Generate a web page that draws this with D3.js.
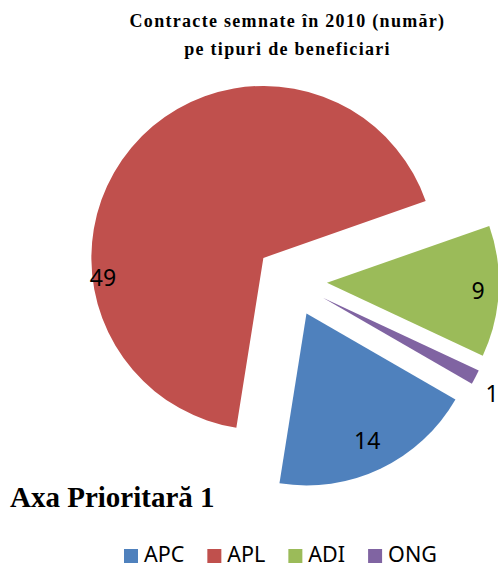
<!DOCTYPE html>
<html>
<head>
<meta charset="utf-8">
<script src="https://cdn.jsdelivr.net/npm/d3@7"></script>
<style>
  body { margin: 0; background: #fff; }
  svg { display: block; }
</style>
</head>
<body>
<div id="chart"></div>
<script>
// chart data
var categories = ["APC", "APL", "ADI", "ONG"];
var values = [14, 49, 9, 1];
var colors = ["#4F81BD", "#C0504D", "#9BBB59", "#8064A2"];
var titleLines = ["Contracte semnate în 2010 (număr)", "pe tipuri de beneficiari"];
var subTitle = "Axa Prioritară 1";

var svgWidth = 498;
var svgHeight = 569;

var svg = d3.select("#chart")
  .append("svg")
  .attr("width", svgWidth)
  .attr("height", svgHeight);

// pie geometry
var center = { x: 291, y: 281 };
var radius = 172;
var explode = 36;
var startDeg = 120;

var pie = d3.pie()
  .sort(null)
  .value(d => d)
  .startAngle(startDeg * Math.PI / 180)
  .endAngle((startDeg + 360) * Math.PI / 180);

var arc = d3.arc().innerRadius(0).outerRadius(radius);

var arcs = pie(values);

// offset along bisector
function offset(d, dist) {
  var a = (d.startAngle + d.endAngle) / 2;
  return [Math.sin(a) * dist, -Math.cos(a) * dist];
}

var pieGroup = svg.append("g")
  .attr("transform", `translate(${center.x}, ${center.y})`);

var slices = pieGroup.selectAll("g.slice")
  .data(arcs)
  .enter()
  .append("g")
  .attr("class", "slice")
  .attr("transform", d => {
    var o = offset(d, explode);
    return `translate(${o[0]}, ${o[1]})`;
  });

slices.append("path")
  .attr("d", arc)
  .attr("fill", (d, i) => colors[i]);

// data labels (best-fit like placement)
var labelRatio = [0.82, 0.94, 0.88, 1.13];
var labelAngleShift = [0, -47, 0, 2]; // degrees, APL label sits near left edge
var labelSize = 23;

slices.append("text")
  .attr("transform", (d, i) => {
    var a = (d.startAngle + d.endAngle) / 2 + labelAngleShift[i] * Math.PI / 180;
    var r = radius * labelRatio[i];
    return `translate(${Math.sin(a) * r}, ${-Math.cos(a) * r})`;
  })
  .attr("text-anchor", "middle")
  .attr("dy", (labelSize * 0.357) + "px")
  .style("font-family", "'Noto Sans', sans-serif")
  .style("font-size", labelSize + "px")
  .style("fill", "#000")
  .text((d, i) => values[i]);

// title
svg.selectAll("text.title")
  .data(titleLines)
  .enter()
  .append("text")
  .attr("class", "title")
  .attr("x", 287.5)
  .attr("y", (d, i) => 27 + i * 28)
  .attr("text-anchor", "middle")
  .style("font-family", "'Liberation Serif', serif")
  .style("font-weight", "bold")
  .style("font-size", "18px")
  .style("letter-spacing", "1.3px")
  .text(d => d);

// sub title
svg.append("text")
  .attr("x", 10)
  .attr("y", 507)
  .style("font-family", "'Liberation Serif', serif")
  .style("font-weight", "bold")
  .style("font-size", "29px")
  .text(subTitle);

// legend
var legend = svg.append("g").attr("class", "legend");
var lx = 124;
categories.forEach(function(c, i) {
  var item = legend.append("g").attr("transform", `translate(${lx}, 0)`);
  item.append("rect")
    .attr("x", 0)
    .attr("y", 549)
    .attr("width", 14)
    .attr("height", 14)
    .attr("fill", colors[i]);
  var t = item.append("text")
    .attr("x", 20)
    .attr("y", 562)
    .style("font-family", "'Noto Sans', sans-serif")
    .style("font-size", "21.5px")
    .style("fill", "#000")
    .text(c);
  lx += 20 + t.node().getComputedTextLength() + 23;
});
</script>
</body>
</html>
